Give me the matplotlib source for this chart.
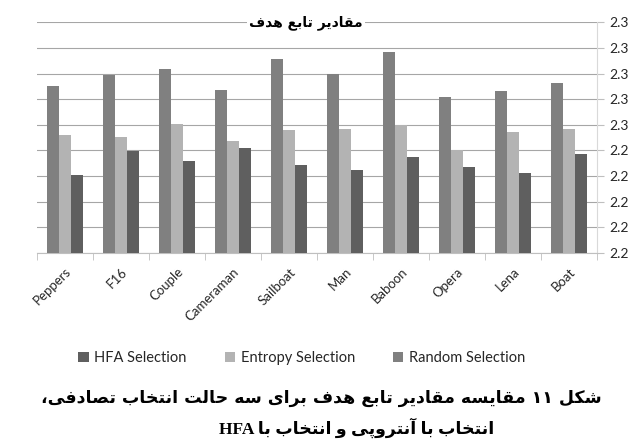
import matplotlib
matplotlib.use('Agg')
import matplotlib.pyplot as plt
import numpy as np
from matplotlib.patches import Patch

# ---------------- data ----------------
categories = ['Peppers', 'F16', 'Couple', 'Cameraman', 'Sailboat',
              'Man', 'Baboon', 'Opera', 'Lena', 'Boat']
random_sel = [2.2753, 2.2794, 2.2817, 2.2736, 2.2858, 2.2800, 2.2884, 2.2710, 2.2732, 2.2764]
entropy_sel = [2.2559, 2.2553, 2.2603, 2.2536, 2.2579, 2.2583, 2.2599, 2.2502, 2.2573, 2.2584]
hfa_sel = [2.2406, 2.2498, 2.2460, 2.2510, 2.2442, 2.2425, 2.2473, 2.2437, 2.2411, 2.2486]
series_names = ['HFA Selection', 'Entropy Selection', 'Random Selection']
y_ticks = [2.21, 2.22, 2.23, 2.24, 2.25, 2.26, 2.27, 2.28, 2.29, 2.30]
y_tick_labels = ['2.2', '2.2', '2.2', '2.2', '2.2', '2.3', '2.3', '2.3', '2.3', '2.3']
chart_title = 'مقادیر تابع هدف'
caption_line1 = 'شکل ۱۱ مقایسه مقادیر تابع هدف برای سه حالت انتخاب تصادفی،'
caption_line2 = 'انتخاب با آنتروپی و انتخاب با'
caption_line2_latin = 'HFA'

colors = {'HFA Selection': '#5f5f5f', 'Entropy Selection': '#b3b3b3',
          'Random Selection': '#808080'}

# ------------- simple Persian shaping (presentation forms) -------------
FORMS = {
    'ا': ('\uFE8D', '\uFE8E', None, None),
    'آ': ('\uFE81', '\uFE82', None, None),
    'ب': ('\uFE8F', '\uFE90', '\uFE91', '\uFE92'),
    'پ': ('\uFB56', '\uFB57', '\uFB58', '\uFB59'),
    'ت': ('\uFE95', '\uFE96', '\uFE97', '\uFE98'),
    'ح': ('\uFEA1', '\uFEA2', '\uFEA3', '\uFEA4'),
    'خ': ('\uFEA5', '\uFEA6', '\uFEA7', '\uFEA8'),
    'د': ('\uFEA9', '\uFEAA', None, None),
    'ر': ('\uFEAD', '\uFEAE', None, None),
    'س': ('\uFEB1', '\uFEB2', '\uFEB3', '\uFEB4'),
    'ش': ('\uFEB5', '\uFEB6', '\uFEB7', '\uFEB8'),
    'ص': ('\uFEB9', '\uFEBA', '\uFEBB', '\uFEBC'),
    'ع': ('\uFEC9', '\uFECA', '\uFECB', '\uFECC'),
    'ف': ('\uFED1', '\uFED2', '\uFED3', '\uFED4'),
    'ق': ('\uFED5', '\uFED6', '\uFED7', '\uFED8'),
    'ک': ('\uFB8E', '\uFB8F', '\uFB90', '\uFB91'),
    'ل': ('\uFEDD', '\uFEDE', '\uFEDF', '\uFEE0'),
    'م': ('\uFEE1', '\uFEE2', '\uFEE3', '\uFEE4'),
    'ن': ('\uFEE5', '\uFEE6', '\uFEE7', '\uFEE8'),
    'ه': ('\uFEE9', '\uFEEA', '\uFEEB', '\uFEEC'),
    'و': ('\uFEED', '\uFEEE', None, None),
    'ی': ('\uFBFC', '\uFBFD', '\uFBFE', '\uFBFF'),
}


def shape_rtl(s):
    out = []
    for i, ch in enumerate(s):
        if ch not in FORMS:
            out.append(ch)
            continue
        prev = s[i - 1] if i > 0 else ''
        nxt = s[i + 1] if i + 1 < len(s) else ''
        jp = prev in FORMS and FORMS[prev][2] is not None
        jn = nxt in FORMS and FORMS[ch][2] is not None
        iso, fin, ini, med = FORMS[ch]
        if jp and jn:
            out.append(med)
        elif jp:
            out.append(fin)
        elif jn:
            out.append(ini)
        else:
            out.append(iso)
    return ''.join(out)[::-1]


# ---------------- figure ----------------
plt.rcParams['font.family'] = ['Lato', 'DejaVu Sans']
fig = plt.figure(figsize=(6.42, 4.44), dpi=100)
ax = fig.add_axes([37 / 642, 1 - 253 / 444, (597 - 37) / 642, (253 - 22.3) / 444])

x = np.arange(len(categories))
w = 0.214
order = [('Random Selection', random_sel), ('Entropy Selection', entropy_sel),
         ('HFA Selection', hfa_sel)]
for k, (name, vals) in enumerate(order):
    ax.bar(x + (k - 1) * w, vals, width=w, color=colors[name], zorder=3,
           edgecolor='none')

ax.set_xlim(-0.5, len(categories) - 0.5)
ax.set_ylim(y_ticks[0], y_ticks[-1])
ax.yaxis.tick_right()
ax.set_yticks(y_ticks)
ax.set_yticklabels(y_tick_labels)
ax.tick_params(axis='y', length=5, color='#bfbfbf', labelsize=10,
               labelcolor='#262626', pad=4)
ax.grid(axis='y', color='#a6a6a6', linewidth=0.8, zorder=0)

ax.set_xticks(x)
ax.set_xticklabels(categories, rotation=45, ha='right', rotation_mode='anchor',
                   fontsize=9.5, color='#262626')
ax.tick_params(axis='x', which='major', length=0, pad=9)
ax.set_xticks(np.arange(-0.5, len(categories), 1.0), minor=True)
ax.tick_params(axis='x', which='minor', length=5, color='#bfbfbf')

for side in ['top', 'left']:
    ax.spines[side].set_visible(False)
ax.spines['bottom'].set_color('#bfbfbf')
ax.spines['right'].set_color('#d9d9d9')

fig.text(306 / 642, 1 - 23 / 444, shape_rtl(chart_title), ha='center', va='center',
         fontsize=10, fontweight='bold', family=['DejaVu Sans'],
         bbox=dict(facecolor='white', edgecolor='none', pad=1.5))

handles = [Patch(facecolor=colors[n], edgecolor='none') for n in series_names]
fig.legend(handles, series_names, loc='center', bbox_to_anchor=(0.47, 1 - 358 / 444),
           ncol=3, frameon=False, fontsize=10.5, handlelength=0.7, handleheight=0.7,
           handletextpad=0.4, columnspacing=2.6, labelcolor='#262626')

fig.text(0.5, 1 - 398 / 444, shape_rtl(caption_line1), ha='center', va='center',
         fontsize=12.5, fontweight='bold', family=['DejaVu Sans'])
fig.text(357 / 642, 1 - 428 / 444, caption_line2_latin + ' ' + shape_rtl(caption_line2),
         ha='center', va='center', fontsize=12.5, fontweight='bold',
         family=['Liberation Serif', 'DejaVu Sans'])

fig.savefig('out.png', dpi=100)
